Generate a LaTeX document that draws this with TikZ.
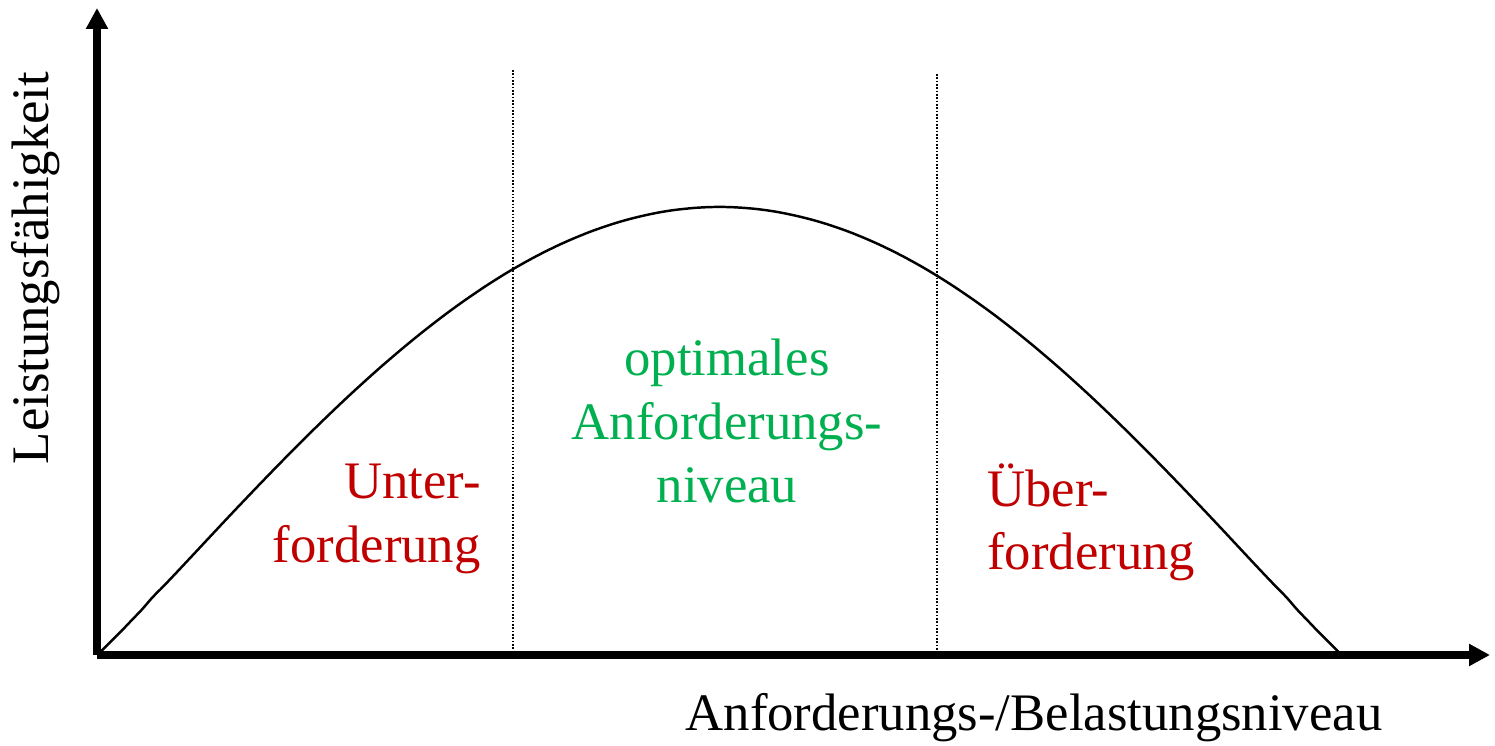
\documentclass[tikz,border=0pt]{standalone}
\usepackage{fontspec}
\setmainfont{Liberation Serif}
\usepackage{xcolor}
\usetikzlibrary{arrows.meta,positioning}
\definecolor{unterred}{HTML}{C00000}
\definecolor{optgreen}{HTML}{00B050}

\begin{document}
\begin{tikzpicture}[
    x=0.02cm, y=0.02cm,
    axis/.style={line width=4pt, -{Triangle[length=0.42cm, width=0.42cm]}},
    grenze/.style={densely dotted, line width=0.9pt},
    lbl/.style={font=\fontsize{30}{36}\selectfont, align=center, inner sep=0pt}]
    \useasboundingbox (0,0) rectangle (1495,746);
    % axes
    \coordinate (origin) at (97,91);
    \coordinate (ytip) at (97,738);
    \coordinate (xtip) at (1490,91);
    \coordinate (curveend) at (1342,91);
    \draw[axis] (origin) -- (ytip);
    \draw[axis] (origin) -- (xtip);
    % curve
    \draw[line width=1.4pt, line join=round] (origin) -- plot[domain=0.5:179.5, samples=120, smooth]
        ({97+6.916667*\x}, {91+448*pow(sin(\x),1.05)}) -- (curveend);
    % boundaries
    \coordinate (g1top) at (513,676);
    \coordinate (g1bot) at (513,91);
    \coordinate (g2top) at (937,672);
    \coordinate (g2bot) at (937,91);
    \draw[grenze] (g1top) -- (g1bot);
    \draw[grenze] (g2top) -- (g2bot);
    % labels
    \node[lbl, rotate=90] (ylabel) at (36,478) {Leistungsfähigkeit};
    \node[lbl] (xlabel) at (1034,28) {Anforderungs-/Belastungsniveau};
    \node[lbl, align=right, text=unterred, anchor=east] (unter) at (481,227) {Unter-\\forderung};
    \node[lbl, text=optgreen] (optimal) at (727,325) {optimales\\Anforderungs-\\niveau};
    \node[lbl, align=left, text=unterred, anchor=west] (ueber) at (987,224) {Über-\\forderung};
\end{tikzpicture}
\end{document}
